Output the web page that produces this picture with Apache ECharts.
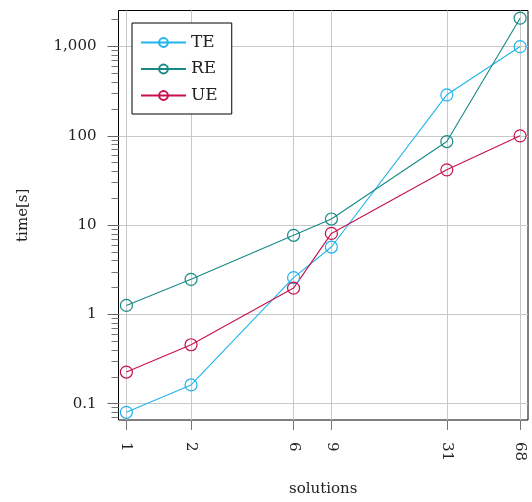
<!DOCTYPE html>
<html>
<head>
<meta charset="utf-8">
<script src="https://cdn.jsdelivr.net/npm/echarts@6/dist/echarts.min.js"></script>
<style>html,body{margin:0;padding:0;background:#fff}#c{width:532px;height:502px}</style>
</head>
<body>
<div id="c"></div>
<script>
const solutions = [1, 2, 6, 9, 31, 68];
const TE = [0.08, 0.162, 2.58, 5.68, 288, 1000];
const RE = [1.26, 2.47, 7.69, 11.7, 86.3, 2080];
const UE = [0.226, 0.457, 1.97, 8.07, 41.6, 100];
const yMajorTicks = [0.1, 1, 10, 100, 1000];
const yMinorTicks = [0.07, 0.08, 0.09, 0.2, 0.3, 0.4, 0.5, 0.6, 0.7, 0.8, 0.9,
  2, 3, 4, 5, 6, 7, 8, 9, 20, 30, 40, 50, 60, 70, 80, 90,
  200, 300, 400, 500, 600, 700, 800, 900, 2000];
const seriesNames = ['TE', 'RE', 'UE'];
const colors = ['#20b4ee', '#178a86', '#c8104e'];

const FONT = 'DejaVu Serif';
const fmt = v => {
  if (v >= 1000) return String(v).replace(/\B(?=(\d{3})+(?!\d))/g, ',');
  return String(v);
};
const pairs = arr => solutions.map((x, i) => [x, arr[i]]);

const chart = echarts.init(document.getElementById('c'), null, {renderer: 'canvas'});
const data = [TE, RE, UE];
chart.setOption({
  animation: false,
  backgroundColor: '#fff',
  textStyle: {fontFamily: FONT, color: '#222'},
  grid: {left: 118.5, right: 4, top: 10.5, bottom: 82, show: true, borderColor: '#000', borderWidth: 1,
         containLabel: false, outerBoundsMode: 'none'},
  legend: {
    orient: 'vertical', left: 132, top: 23,
    data: seriesNames,
    itemWidth: 45, itemHeight: 11, itemGap: 9.5,
    padding: [11, 14, 10, 8],
    borderColor: '#000', borderWidth: 1, backgroundColor: '#fff',
    textStyle: {fontFamily: FONT, fontSize: 17, color: '#222', lineHeight: 15},
    z: 10
  },
  xAxis: {
    type: 'log', logBase: 10, min: 0.919, max: 74,
    name: 'solutions', nameLocation: 'middle', nameGap: 62,
    nameTextStyle: {fontFamily: FONT, fontSize: 15, color: '#222'},
    axisLine: {show: false},
    axisTick: {show: true, inside: false, length: 10, customValues: solutions, lineStyle: {color: '#777'}},
    axisLabel: {customValues: solutions, rotate: -90, margin: 22, fontFamily: FONT, fontSize: 15, color: '#222'},
    splitLine: {show: true, lineStyle: {color: '#c8c8c8', width: 1}},
    minorTick: {show: false}
  },
  yAxis: [{
    type: 'log', logBase: 10, min: 0.0656, max: 2535,
    name: 'time[s]', nameLocation: 'middle', nameGap: 88, nameRotate: 90,
    nameTextStyle: {fontFamily: FONT, fontSize: 15, color: '#222'},
    axisLine: {show: false},
    axisTick: {show: true, length: 11, customValues: yMajorTicks, lineStyle: {color: '#666'}},
    axisLabel: {customValues: yMajorTicks, margin: 22, fontFamily: FONT, fontSize: 15, color: '#222', formatter: fmt},
    splitLine: {show: true, lineStyle: {color: '#c8c8c8', width: 1}}
  }, {
    type: 'log', logBase: 10, min: 0.0656, max: 2535, position: 'left', offset: 0,
    axisLine: {show: false},
    axisTick: {show: true, length: 7, customValues: yMinorTicks, lineStyle: {color: '#777'}},
    axisLabel: {show: false},
    splitLine: {show: false}
  }],
  series: seriesNames.map((n, i) => ({
    name: n, type: 'line', yAxisIndex: 0,
    data: pairs(data[i]),
    symbol: 'circle', symbolSize: 12,
    color: colors[i],
    lineStyle: {width: 1.1, color: colors[i]},
    itemStyle: {color: 'rgba(255,255,255,0)', borderColor: colors[i], borderWidth: 1.2},
    z: 3
  }))
});
</script>
</body>
</html>
